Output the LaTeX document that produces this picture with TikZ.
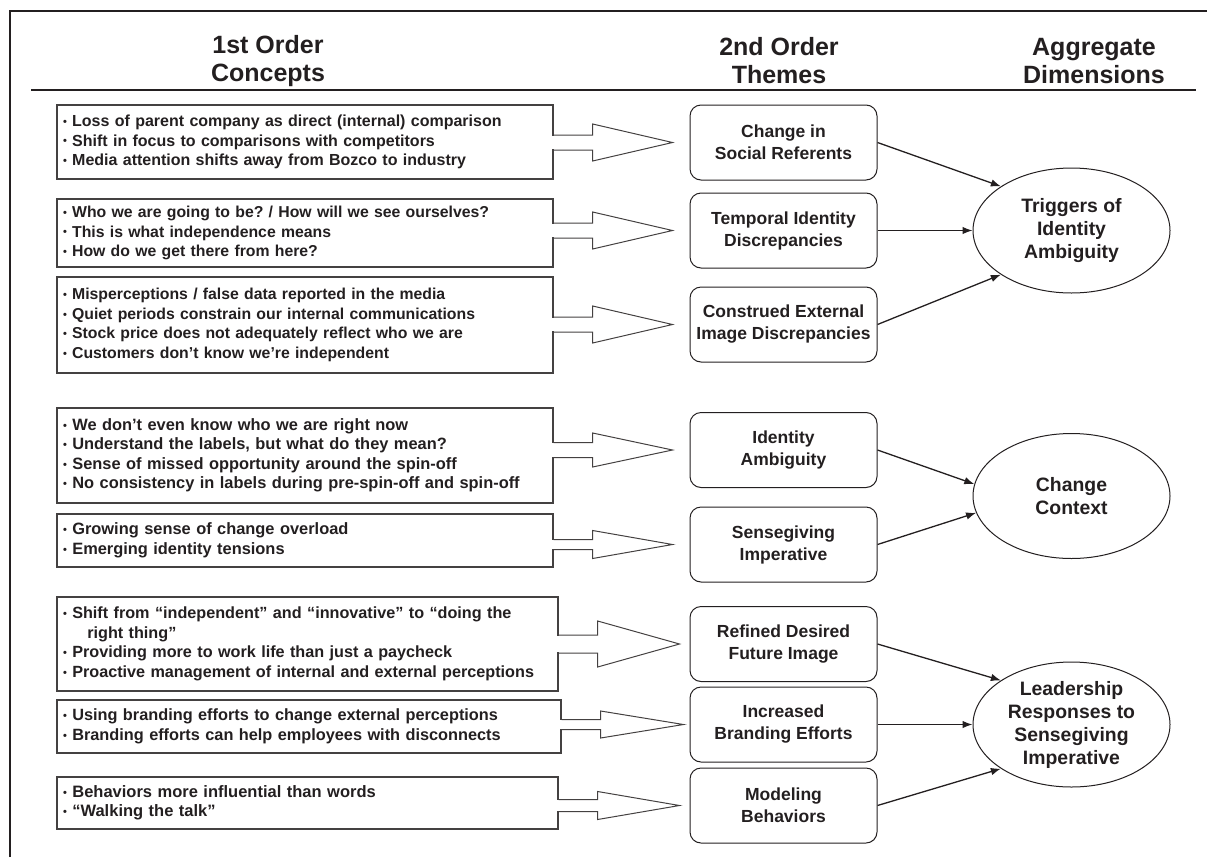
\documentclass[tikz,border=0pt]{standalone}
\usepackage{fontspec}
\setmainfont{Liberation Sans}
\usetikzlibrary{shapes.geometric,arrows.meta,calc}
\definecolor{ink}{HTML}{231F20}
\newcommand{\bul}{{\fontsize{11}{11}\selectfont\raisebox{.12em}{•}}\ }
\frenchspacing

\begin{document}
\begin{tikzpicture}[x=1pt,y=-1pt,>={Latex[length=10pt,width=7.5pt]},
  concept/.style={draw=ink!85,line width=1.3pt,inner xsep=6pt,inner ysep=0pt,text width=484pt,
    align=left,font=\fontsize{#1}{19.5}\selectfont\bfseries,text=ink},
  concept/.default=16,
  theme/.style={draw=ink,line width=1pt,rounded corners=11pt,minimum width=187pt,minimum height=75pt,
    inner sep=0pt,align=center,font=\fontsize{17.5}{22}\selectfont\bfseries,text=ink},
  dim/.style={draw=ink,ellipse,line width=1pt,minimum width=197pt,minimum height=125pt,
    inner sep=0pt,align=center,font=\fontsize{19.4}{23}\selectfont\bfseries,text=ink},
  head/.style={align=center,font=\fontsize{25}{28}\selectfont\bfseries,text=ink},
  blockarrow/.style={draw=ink!85,line width=1pt,line join=miter},
  link/.style={->,draw=ink,line width=1.3pt}]
\useasboundingbox (0,0) rectangle (1207,857);

\draw[ink,line width=2pt] (10,857)--(10,11)--(1207,11);
\node[head] (h1) at (268,61) {1st Order\\Concepts};
\node[head] (h2) at (779,61) {2nd Order\\Themes};
\node[head] (h3) at (1094,61) {Aggregate\\Dimensions};
\draw[ink,line width=1.8pt] (31,90)--(1196,90);

% 1st order concepts
\node[concept,minimum height=74pt] (c1) at (305,142) {\bul Loss of parent company as direct (internal) comparison\\
  \bul Shift in focus to comparisons with competitors\\
  \bul Media attention shifts away from Bozco to industry};
\node[concept=15.8,minimum height=68pt] (c2) at (305,233) {\bul Who we are going to be? / How will we see ourselves?\\
  \bul This is what independence means\\
  \bul How do we get there from here?};
\node[concept=15.8,minimum height=96pt] (c3) at (305,325) {\bul Misperceptions / false data reported in the media\\
  \bul Quiet periods constrain our internal communications\\
  \bul Stock price does not adequately reflect who we are\\
  \bul Customers don’t know we’re independent};
\node[concept=16.4,minimum height=95pt] (c4) at (305,455.5) {\bul We don’t even know who we are right now\\
  \bul Understand the labels, but what do they mean?\\
  \bul Sense of missed opportunity around the spin-off\\
  \bul No consistency in labels during pre-spin-off and spin-off};
\node[concept=16.4,minimum height=53pt] (c5) at (305,540.5) {\bul Growing sense of change overload\\
  \bul Emerging identity tensions};
\node[concept=16.2,minimum height=94pt,text width=489pt] (c6) at (307.5,644) {\bul Shift from “independent” and “innovative” to “doing the\\
  \hspace*{1.5em}right thing”\\
  \bul Providing more to work life than just a paycheck\\
  \bul Proactive management of internal and external perceptions};
\node[concept=16.3,minimum height=53pt,text width=492pt] (c7) at (309,726.5) {\bul Using branding efforts to change external perceptions\\
  \bul Branding efforts can help employees with disconnects};
\node[concept=16.5,minimum height=52pt,text width=489pt] (c8) at (307.5,803) {\bul Behaviors more influential than words\\
  \bul “Walking the talk”};

% 2nd order themes
\node[theme] (t1) at (783.5,142.5) {Change in\\Social Referents};
\node[theme] (t2) at (783.5,230.5) {Temporal Identity\\Discrepancies};
\node[theme] (t3) at (783.5,324.5) {Construed External\\Image Discrepancies};
\node[theme] (t4) at (783.5,450) {Identity\\Ambiguity};
\node[theme] (t5) at (783.5,544.5) {Sensegiving\\Imperative};
\node[theme] (t6) at (783.5,644) {Refined Desired\\Future Image};
\node[theme] (t7) at (783.5,724.5) {Increased\\Branding Efforts};
\node[theme] (t8) at (783.5,805.5) {Modeling\\Behaviors};

% aggregate dimensions
\node[dim] (d1) at (1071.5,230.5) {Triggers of\\Identity\\Ambiguity};
\node[dim] (d2) at (1071.5,496) {Change\\Context};
\node[dim] (d3) at (1071.5,724.5) {Leadership\\Responses to\\Sensegiving\\Imperative};

\foreach \i/\s/\h/\g in {1/7.5/18.5/17, 2/7.5/18.5/17, 3/7.5/18.5/17, 4/7.5/17/17,
  5/5/14/17, 6/9/23/10, 7/5/13.5/6, 8/6/14/10}
{
    \coordinate (o) at (c\i.east |- t\i.west);
    \fill[white] ($(o)+(-1.5,-\s+0.6)$) rectangle ($(o)+(1.5,\s-0.6)$);
    \draw[blockarrow] ($(o)+(0,-\s)$) -- ++(39,0) -- ++(0,\s-\h) -- ($(t\i.west)+(-\g,0)$)
        -- ($(o)+(39,\h)$) -- ++(0,\s-\h) -- ++(-39,0);
}

\draw[link] (t1.east) -- (d1.148);
\draw[link] (t2.east) -- (d1.west);
\draw[link] (t3.east) -- (d1.212);
\draw[link] (t4.east) -- (d2.173);
\draw[link] (t5.east) -- (d2.190);
\draw[link] (t6.east) -- (d3.148);
\draw[link] (t7.east) -- (d3.west);
\draw[link] (t8.east) -- (d3.212);

\end{tikzpicture}
\end{document}
